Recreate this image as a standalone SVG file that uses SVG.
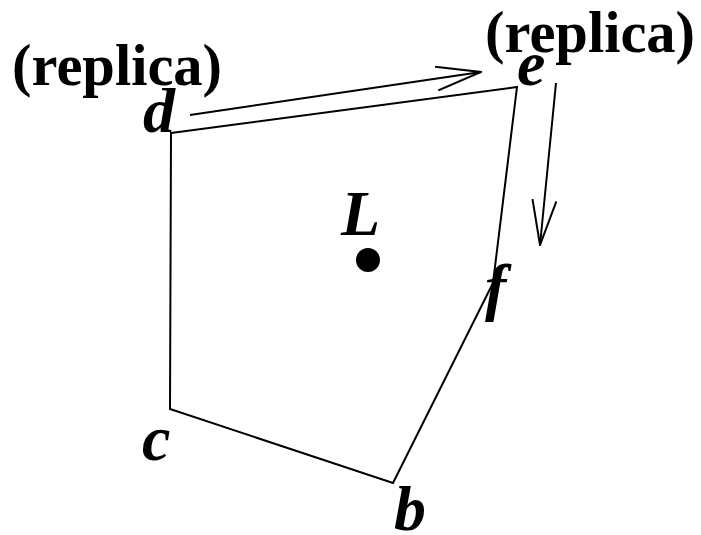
<svg xmlns="http://www.w3.org/2000/svg" width="701" height="535" viewBox="0 0 701 535">
<style>
.rep{font-family:"Liberation Serif",serif;font-weight:bold;font-size:58.5px;fill:#000}
.lab{font-family:"Liberation Serif",serif;font-weight:bold;font-style:italic;font-size:64px;fill:#000}
.ln{fill:none;stroke:#000;stroke-width:2;stroke-linejoin:miter}
</style>
<defs>
<marker id="openL" viewBox="0 0 46 26" refX="45" refY="13" markerWidth="46" markerHeight="26" markerUnits="userSpaceOnUse" orient="auto">
<path d="M0,1 L45,13 L0,25" fill="none" stroke="#000" stroke-width="2"/>
</marker>
</defs>
<g id="polygon">
<polygon class="ln" points="171,133 517,87 493,283 393,483 170,409"/>
</g>
<g id="connectors">
<line class="ln" x1="190" y1="115" x2="481" y2="72" marker-end="url(#openL)"/>
<line class="ln" x1="556" y1="83" x2="540" y2="245" marker-end="url(#openL)"/>
</g>
<g id="node-d"><text class="lab" x="143" y="132">d</text></g>
<g id="node-e"><text class="lab" x="517" y="85">e</text></g>
<g id="node-f"><text class="lab" x="485" y="308">f</text></g>
<g id="node-c"><text class="lab" x="142" y="460">c</text></g>
<g id="node-b"><text class="lab" x="394" y="530">b</text></g>
<g id="node-L"><text class="lab" x="341" y="235">L</text><circle cx="368" cy="260" r="12" fill="#000"/></g>
<g id="replica-left"><text class="rep" x="12" y="85">(replica)</text></g>
<g id="replica-right"><text class="rep" x="485" y="52">(replica)</text></g>
</svg>
